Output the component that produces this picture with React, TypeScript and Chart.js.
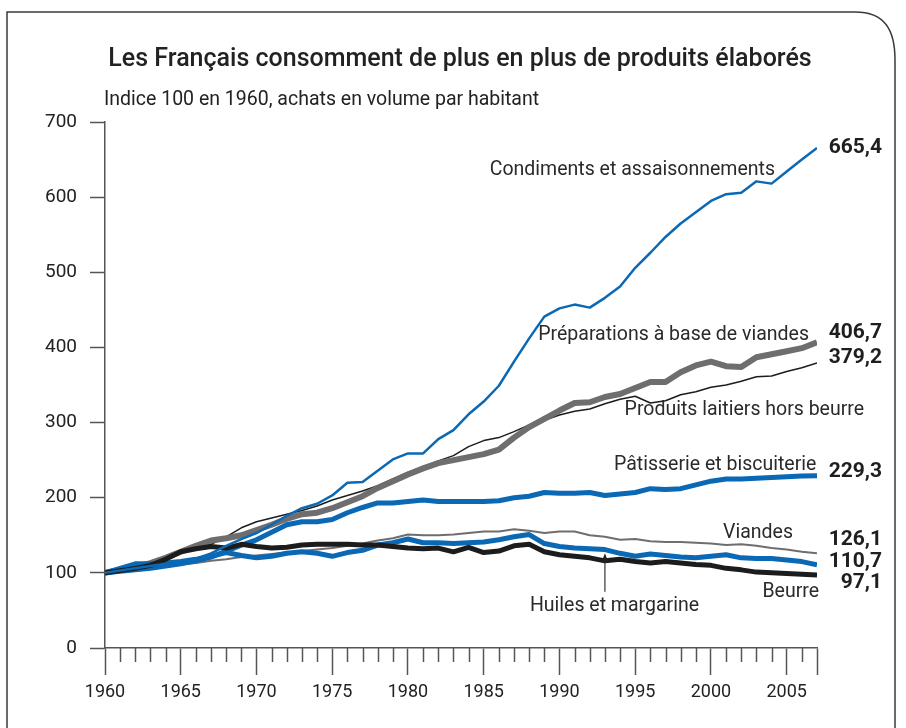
import React, { useEffect, useRef } from "react";
import { Chart, registerables } from "chart.js";

Chart.register(...registerables);

const years: number[] = [];
for (let y = 1960; y <= 2007; y++) years.push(y);

const condiments = [100, 103, 106, 109, 112, 115, 119, 126, 136, 145, 153, 164, 176, 186, 192, 203, 220, 221, 236, 251, 259, 259, 278, 290, 311, 328, 349, 381, 412, 441, 452, 457, 453, 466, 481, 506, 526, 547, 565, 580, 595, 604, 606, 621, 618, 634, 650, 665.4];
const preparations = [100, 104, 108, 113, 120, 128, 136, 143, 146, 150, 157, 164, 172, 178, 180, 186, 194, 202, 213, 222, 231, 239, 246, 250, 254, 258, 264, 280, 294, 305, 316, 326, 327, 334, 338, 346, 354, 354, 367, 376, 381, 375, 374, 387, 391, 395, 399, 406.7];
const laitiers = [100, 104, 108, 113, 120, 128, 133, 138, 148, 160, 168, 173, 178, 183, 189, 197, 203, 209, 216, 225, 234, 241, 249, 256, 268, 276, 280, 288, 297, 303, 310, 315, 318, 325, 331, 335, 326, 329, 337, 341, 347, 350, 355, 361, 362, 368, 373, 379.2];
const patisserie = [100, 102, 104, 106, 109, 112, 116, 121, 129, 137, 144, 154, 164, 168, 168, 171, 180, 187, 193, 193, 195, 197, 195, 195, 195, 195, 196, 200, 202, 207, 206, 206, 207, 203, 205, 207, 212, 211, 212, 217, 222, 225, 225, 226, 227, 228, 229, 229.3];
const viandes = [100, 102, 104, 106, 108, 111, 113, 116, 118, 121, 123, 125, 127, 129, 131, 133, 136, 139, 143, 146, 151, 150, 150, 151, 153, 155, 155, 158, 156, 153, 155, 155, 150, 148, 144, 145, 142, 141, 141, 140, 139, 137, 138, 136, 133, 131, 128, 126.1];
const huiles = [100, 106, 112, 112, 113, 115, 118, 122, 127, 123, 120, 122, 126, 128, 126, 122, 127, 130, 137, 140, 145, 140, 140, 139, 140, 141, 144, 148, 151, 139, 135, 133, 132, 131, 126, 122, 125, 123, 121, 120, 122, 124, 120, 119, 119, 117, 115, 110.7];
const beurre = [100, 103, 106, 110, 118, 128, 132, 135, 133, 138, 135, 133, 134, 137, 138, 138, 138, 137, 137, 135, 133, 132, 133, 128, 134, 127, 129, 136, 138, 128, 124, 122, 120, 116, 118, 115, 113, 115, 113, 111, 110, 106, 104, 101, 100, 99, 98, 97.1];

const yTicks = [0, 100, 200, 300, 400, 500, 600, 700];

const endValues = ["665,4", "406,7", "379,2", "229,3", "126,1", "110,7", "97,1"];
const endValueY = [665.8, 419.4, 386.2, 234.4, 143.8, 114.5, 86.6];

const seriesLabels = [
  "Condiments et assaisonnements",
  "Préparations à base de viandes",
  "Produits laitiers hors beurre",
  "Pâtisserie et biscuiterie",
  "Viandes",
  "Beurre",
  "Huiles et margarine",
];
const seriesLabelX = [1985.4, 1988.6, 1994.3, 1993.6, 2000.8, 2003.4, 1988.05];
const seriesLabelY = [636.5, 416.8, 317, 243.7, 153, 74.6, 56];

const TITLE = "Les Français consomment de plus en plus de produits élaborés";
const SUBTITLE = "Indice 100 en 1960, achats en volume par habitant";

const BLUE = "#0b68b4";
const GREY = "#6e6e70";
const BLACK = "#1c1c1c";
const FONT = "Roboto, 'Liberation Sans', sans-serif";

export default function App() {
  const ref = useRef<HTMLCanvasElement | null>(null);

  useEffect(() => {
    if (!ref.current) return;

    const overlay = {
      id: "overlay",
      beforeDraw(chart: any) {
        const ctx = chart.ctx;
        ctx.save();
        ctx.fillStyle = "#ffffff";
        ctx.fillRect(0, 0, chart.width, chart.height);
        ctx.strokeStyle = "#3a3a3a";
        ctx.lineWidth = 1.5;
        ctx.beginPath();
        ctx.moveTo(7, 728);
        ctx.lineTo(7, 12);
        ctx.lineTo(855, 12);
        ctx.bezierCurveTo(885, 12, 895, 30, 895, 60);
        ctx.lineTo(895, 728);
        ctx.stroke();

        ctx.fillStyle = "#222";
        ctx.textBaseline = "middle";
        ctx.textAlign = "center";
        ctx.font = `500 25px ${FONT}`;
        ctx.fillText(TITLE, 460, 60);
        ctx.textAlign = "left";
        ctx.font = `19.5px ${FONT}`;
        ctx.fillText(SUBTITLE, 104, 100);
        ctx.restore();
      },
      afterDraw(chart: any) {
        const ctx = chart.ctx;
        const xs = chart.scales.x;
        const ys = chart.scales.y;
        ctx.save();
        // minor ticks
        ctx.strokeStyle = "#555";
        ctx.lineWidth = 1.5;
        const base = ys.getPixelForValue(0);
        years.forEach((yr) => {
          if (yr % 5 !== 0 && yr !== 2007) {
            const px = Math.round(xs.getPixelForValue(yr)) + 0.5;
            ctx.beginPath();
            ctx.moveTo(px, base);
            ctx.lineTo(px, base + 14);
            ctx.stroke();
          }
        });
        // series labels
        ctx.fillStyle = "#2a2a2a";
        ctx.textBaseline = "middle";
        ctx.textAlign = "left";
        ctx.font = `19.5px ${FONT}`;
        seriesLabels.forEach((t, i) => {
          ctx.fillText(t, xs.getPixelForValue(seriesLabelX[i]), ys.getPixelForValue(seriesLabelY[i]));
        });
        // arrow for Huiles et margarine
        const ax = xs.getPixelForValue(1993);
        const ay0 = ys.getPixelForValue(75);
        const ay1 = ys.getPixelForValue(126);
        ctx.strokeStyle = "#333";
        ctx.lineWidth = 1.2;
        ctx.beginPath();
        ctx.moveTo(ax, ay0);
        ctx.lineTo(ax, ay1 + 6);
        ctx.stroke();
        ctx.fillStyle = "#222";
        ctx.beginPath();
        ctx.moveTo(ax, ay1);
        ctx.lineTo(ax - 3.5, ay1 + 9);
        ctx.lineTo(ax + 3.5, ay1 + 9);
        ctx.closePath();
        ctx.fill();
        // end values
        ctx.fillStyle = "#1e1e1e";
        ctx.textAlign = "right";
        ctx.font = `bold 21px ${FONT}`;
        const rx = chart.chartArea.right + 65;
        endValues.forEach((t, i) => {
          ctx.fillText(t, rx, ys.getPixelForValue(endValueY[i]));
        });
        ctx.restore();
      },
    };

    const mk = (data: number[], color: string, width: number, order: number) => ({
      data: years.map((x, i) => ({ x, y: data[i] })),
      borderColor: color,
      borderWidth: width,
      pointRadius: 0,
      tension: 0,
      fill: false,
      borderJoinStyle: "round" as const,
      order,
    });

    const chart = new Chart(ref.current, {
      type: "line",
      data: {
        datasets: [
          mk(viandes, GREY, 2, 8),
          mk(laitiers, BLACK, 1.5, 7),
          mk(preparations, GREY, 6, 6),
          mk(patisserie, BLUE, 5, 5),
          mk(huiles, BLUE, 5, 4),
          mk(beurre, BLACK, 5, 3),
          mk(condiments, BLUE, 2.5, 1),
        ],
      },
      options: {
        animation: false,
        responsive: false,
        maintainAspectRatio: false,
        layout: { padding: { left: 0, top: 122, right: 89, bottom: 0 } },
        plugins: { legend: { display: false }, tooltip: { enabled: false }, title: { display: false } },
        scales: {
          x: {
            type: "linear",
            min: 1960,
            max: 2007,
            afterFit: (s: any) => { s.height = 80; },
            grid: {
              drawOnChartArea: false,
              tickLength: 27,
              tickWidth: 1.5,
              tickColor: (c: any) => {
                const v = c.tick ? c.tick.value : 0;
                return v % 5 === 0 || v === 2007 ? "#555" : "rgba(0,0,0,0)";
              },
            },
            border: { display: true, color: "#555", width: 1.5 },
            ticks: {
              stepSize: 1,
              autoSkip: false,
              maxRotation: 0,
              padding: 7,
              color: "#222",
              font: { family: FONT, size: 18 },
              callback: (v: any) => (Number(v) % 5 === 0 && Number(v) < 2007 ? String(v) : ""),
            },
          },
          y: {
            min: 0,
            max: 700,
            afterFit: (s: any) => { s.width = 105; },
            afterBuildTicks: (s: any) => { s.ticks = yTicks.map((v) => ({ value: v })); },
            grid: { drawOnChartArea: false, tickLength: 15, tickWidth: 1.5, tickColor: "#555" },
            border: { display: true, color: "#555", width: 1.5 },
            ticks: {
              padding: 13,
              color: "#222",
              font: { family: FONT, size: 19 },
              callback: (v: any) => String(v),
            },
          },
        },
      },
      plugins: [overlay],
    });
    return () => chart.destroy();
  }, []);

  return (
    <div style={{ position: "absolute", left: 0, top: 0, width: 906, height: 728 }}>
      <canvas ref={ref} width={906} height={728} style={{ display: "block", width: 906, height: 728 }} />
    </div>
  );
}
